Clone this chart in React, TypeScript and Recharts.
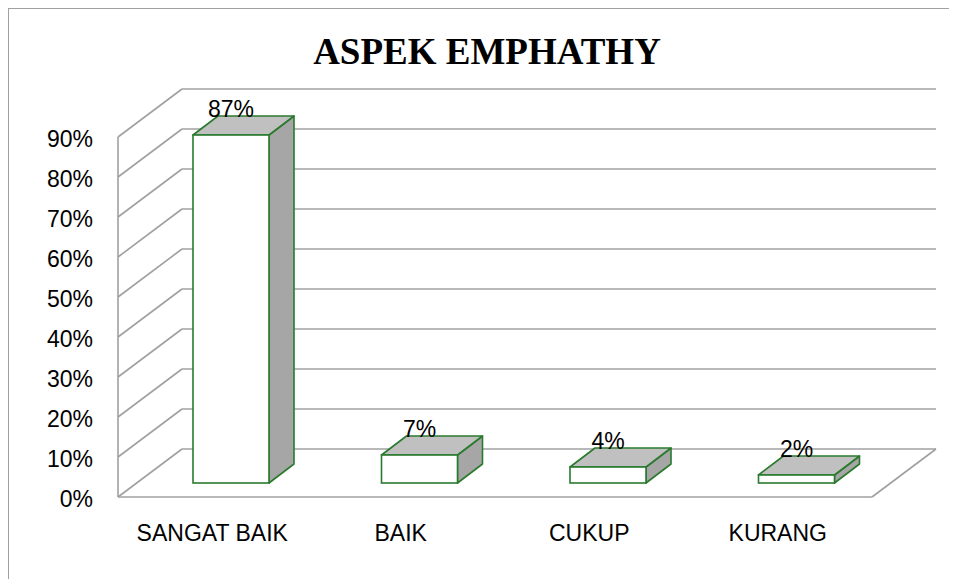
import React from 'react';
import { BarChart, Bar, XAxis, YAxis, CartesianGrid, LabelList } from 'recharts';

const categories = ['SANGAT BAIK', 'BAIK', 'CUKUP', 'KURANG'];
const values = [0.87, 0.07, 0.04, 0.02];
const valueLabels = ['87%', '7%', '4%', '2%'];
const yTicks = [0, 0.1, 0.2, 0.3, 0.4, 0.5, 0.6, 0.7, 0.8, 0.9];
const yTickLabels = ['0%', '10%', '20%', '30%', '40%', '50%', '60%', '70%', '80%', '90%'];
const title = 'ASPEK EMPHATHY';

const data = categories.map((c, i) => ({ name: c, value: values[i], label: valueLabels[i] }));

const W = 948;
const H = 570;
const WALL_DX = 64;
const WALL_DY = 48;
const BAR_DX = 19;
const BAR_DY = 14;
const DEPTH_DX = 25;
const DEPTH_DY = 19;
const GRID = '#a0a0a0';
const GREEN = '#2a7a2e';
const SANS = '"Liberation Sans", Arial, sans-serif';
const SERIF = '"Liberation Serif", "Times New Roman", serif';

const renderGridLine = (props: any) => {
  const { x1, y1, x2, index, y, height } = props;
  const isFloor =
    typeof y === 'number' && typeof height === 'number'
      ? Math.abs(y1 - (y + height)) < 0.5
      : index === 0;
  return (
    <g key={`grid-${index}`}>
      <line x1={x1} y1={y1} x2={x1 + WALL_DX} y2={y1 - WALL_DY} stroke={GRID} strokeWidth={1.6} />
      <line x1={x1 + WALL_DX} y1={y1 - WALL_DY} x2={x2 + WALL_DX} y2={y1 - WALL_DY} stroke={GRID} strokeWidth={1.6} />
      {isFloor && (
        <line x1={x2} y1={y1} x2={x2 + WALL_DX} y2={y1 - WALL_DY} stroke={GRID} strokeWidth={1.6} />
      )}
    </g>
  );
};

const Bar3D = (props: any) => {
  const { x, y, width, height } = props;
  if (width == null || height == null) return null;
  const fx = x + BAR_DX;
  const fy = y - BAR_DY;
  const bx = fx + DEPTH_DX;
  const by = fy - DEPTH_DY;
  const h = height;
  return (
    <g>
      <polygon
        points={`${fx + width},${fy} ${bx + width},${by} ${bx + width},${by + h} ${fx + width},${fy + h}`}
        fill="#a6a6a6"
        stroke={GREEN}
        strokeWidth={1.6}
        strokeLinejoin="round"
      />
      <polygon
        points={`${fx},${fy} ${fx + width},${fy} ${bx + width},${by} ${bx},${by}`}
        fill="#c0c0c0"
        stroke={GREEN}
        strokeWidth={1.6}
        strokeLinejoin="round"
      />
      <rect x={fx} y={fy} width={width} height={h} fill="#ffffff" stroke={GREEN} strokeWidth={1.6} />
    </g>
  );
};

const renderBarLabel = (props: any) => {
  const { x, y, width, value } = props;
  return (
    <text
      x={x + BAR_DX + width / 2}
      y={y - BAR_DY - DEPTH_DY + 1}
      textAnchor="middle"
      fontFamily={SANS}
      fontSize={23}
      fill="#000"
    >
      {value}
    </text>
  );
};

const YTick = (props: any) => {
  const { x, y, index } = props;
  return (
    <text x={x} y={y + 10} textAnchor="end" fontFamily={SANS} fontSize={23} fill="#000">
      {yTickLabels[index]}
    </text>
  );
};

const XTick = (props: any) => {
  const { x, y, payload } = props;
  return (
    <text x={x} y={y + 44} textAnchor="middle" fontFamily={SANS} fontSize={23} fill="#000">
      {payload.value}
    </text>
  );
};

export default function App() {
  return (
    <div
      style={{
        position: 'relative',
        width: W,
        height: H,
        borderLeft: `1px solid ${GRID}`,
        borderTop: `1px solid ${GRID}`,
        background: '#fff',
      }}
    >
      <BarChart
        width={W}
        height={H}
        data={data}
        margin={{ top: 128, right: 85, left: 0, bottom: 0 }}
      >
        <CartesianGrid vertical={false} horizontal={renderGridLine} />
        <XAxis
          dataKey="name"
          axisLine={{ stroke: GRID, strokeWidth: 1.6 }}
          tickLine={false}
          tickSize={0}
          tickMargin={0}
          height={82}
          interval={0}
          tick={<XTick />}
        />
        <YAxis
          type="number"
          domain={[0, 0.9]}
          ticks={yTicks}
          axisLine={{ stroke: GRID, strokeWidth: 1.6 }}
          tickLine={false}
          tickSize={0}
          tickMargin={25}
          width={109}
          interval={0}
          tick={<YTick />}
        />
        <Bar dataKey="value" barSize={76} shape={<Bar3D />} isAnimationActive={false}>
          <LabelList dataKey="label" content={renderBarLabel} />
        </Bar>
      </BarChart>
      <svg
        width={W}
        height={H}
        style={{ position: 'absolute', left: 0, top: 0, pointerEvents: 'none' }}
      >
        <text x={478} y={55} textAnchor="middle" fontFamily={SERIF} fontWeight="bold" fontSize={37} fill="#000">
          {title}
        </text>
      </svg>
    </div>
  );
}
